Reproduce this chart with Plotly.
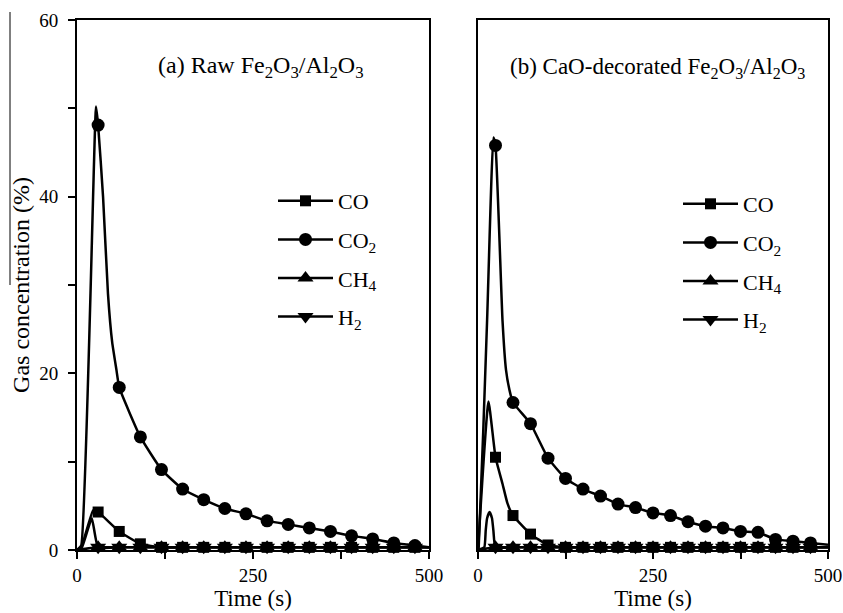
import plotly.graph_objects as go

# ---------------- data ----------------
# Panel (a): Raw Fe2O3/Al2O3  -- markers every 30 s
A_MARK_T = [30, 60, 90, 120, 150, 180, 210, 240, 270, 300, 330, 360, 390, 420, 450, 480]

A_CO_T = [0, 6, 23, 30, 60, 90, 120, 150, 180, 210, 240, 270, 300, 330, 360, 390, 420, 450, 480, 500]
A_CO = [0, 0.3, 4.5, 4.3, 2.1, 0.7, 0.3, 0.3, 0.3, 0.3, 0.3, 0.3, 0.3, 0.3, 0.3, 0.3, 0.3, 0.3, 0.3, 0.3]

A_CO2_T = [0, 6, 27, 30, 37, 44, 50, 56, 60, 90, 120, 150, 180, 210, 240, 270, 300, 330, 360, 390, 420, 450, 480, 500]
A_CO2 = [0, 0.5, 50.2, 48.1, 40, 29, 23.5, 20.4, 18.4, 12.8, 9.1, 6.9, 5.7, 4.7, 4.1, 3.3, 2.9, 2.5, 2.1, 1.6, 1.25, 0.8, 0.5, 0.3]

A_CH4_T = [0, 30, 60, 90, 120, 150, 180, 210, 240, 270, 300, 330, 360, 390, 420, 450, 480, 500]
A_CH4 = [0, 0.3, 0.3, 0.3, 0.3, 0.3, 0.3, 0.3, 0.3, 0.3, 0.3, 0.3, 0.3, 0.3, 0.3, 0.3, 0.3, 0.3]

A_H2_T = [0, 7, 21, 30, 60, 90, 120, 150, 180, 210, 240, 270, 300, 330, 360, 390, 420, 450, 480, 500]
A_H2 = [0, 0.3, 3.6, 0.3, 0.3, 0.3, 0.3, 0.3, 0.3, 0.3, 0.3, 0.3, 0.3, 0.3, 0.3, 0.3, 0.3, 0.3, 0.3, 0.3]

# Panel (b): CaO-decorated Fe2O3/Al2O3 -- markers every 25 s
B_MARK_T = [25, 50, 75, 100, 125, 150, 175, 200, 225, 250, 275, 300, 325, 350, 375, 400, 425, 450, 475]

B_CO_T = [0, 15, 25, 35, 42, 50, 75, 100, 125, 150, 175, 200, 225, 250, 275, 300, 325, 350, 375, 400, 425, 450, 475, 500]
B_CO = [0, 16.8, 10.5, 7.5, 5.3, 3.9, 1.8, 0.57, 0.3, 0.3, 0.3, 0.3, 0.3, 0.3, 0.3, 0.3, 0.3, 0.3, 0.3, 0.3, 0.3, 0.3, 0.3, 0.3]

B_CO2_T = [0, 1, 13, 22, 25, 35, 40, 45, 50, 75, 100, 125, 150, 175, 200, 225, 250, 275, 300, 325, 350, 375, 400, 425, 450, 475, 500]
B_CO2 = [0, 0.3, 26, 46.7, 45.8, 26, 20.4, 18.1, 16.7, 14.3, 10.4, 8.1, 6.9, 6.1, 5.2, 4.8, 4.2, 3.9, 3.2, 2.7, 2.5, 2.1, 2.0, 1.2, 1.0, 0.8, 0.6]

B_CH4_T = [0, 25, 50, 75, 100, 125, 150, 175, 200, 225, 250, 275, 300, 325, 350, 375, 400, 425, 450, 475, 500]
B_CH4 = [0, 0.3, 0.3, 0.3, 0.3, 0.3, 0.3, 0.3, 0.3, 0.3, 0.3, 0.3, 0.3, 0.3, 0.3, 0.3, 0.3, 0.3, 0.3, 0.3, 0.3]

B_H2_T = [0, 9, 11, 13, 16.5, 20, 22, 25, 50, 75, 100, 125, 150, 175, 200, 225, 250, 275, 300, 325, 350, 375, 400, 425, 450, 475, 500]
B_H2 = [0, 0.3, 2.2, 3.6, 4.3, 3.6, 2.2, 0.3, 0.3, 0.3, 0.3, 0.3, 0.3, 0.3, 0.3, 0.3, 0.3, 0.3, 0.3, 0.3, 0.3, 0.3, 0.3, 0.3, 0.3, 0.3, 0.3]

SERIES_NAMES = ["CO", "CO<sub>2</sub>", "CH<sub>4</sub>", "H<sub>2</sub>"]
SYMBOLS = ["square", "circle", "triangle-up", "triangle-down"]
MSIZES = [11, 13, 14, 14]

FONT = "Liberation Serif, Times New Roman, serif"

fig = go.Figure()


def add_series(t, v, mark_t, name, symbol, msize, xa, ya, legend):
    sel = [i for i, ti in enumerate(t) if ti in mark_t]
    fig.add_trace(go.Scatter(
        x=t, y=v, name=name, mode="lines+markers",
        line=dict(color="black", width=2.5, shape="spline", smoothing=0.4),
        marker=dict(symbol=symbol, size=msize, color="black"),
        selectedpoints=sel,
        selected=dict(marker=dict(opacity=1)),
        unselected=dict(marker=dict(opacity=0)),
        xaxis=xa, yaxis=ya, legend=legend, legendgroup=legend + "_" + name,
        cliponaxis=False,
    ))


a_sets = [(A_CO_T, A_CO), (A_CO2_T, A_CO2), (A_CH4_T, A_CH4), (A_H2_T, A_H2)]
b_sets = [(B_CO_T, B_CO), (B_CO2_T, B_CO2), (B_CH4_T, B_CH4), (B_H2_T, B_H2)]
for (t, v), nm, sy, ms in zip(a_sets, SERIES_NAMES, SYMBOLS, MSIZES):
    add_series(t, v, A_MARK_T, nm, sy, ms, "x", "y", "legend")
for (t, v), nm, sy, ms in zip(b_sets, SERIES_NAMES, SYMBOLS, MSIZES):
    add_series(t, v, B_MARK_T, nm, sy, ms, "x2", "y2", "legend2")

W, H = 843, 613
xa_dom = [77 / W, 429 / W]
xb_dom = [478 / W, 828 / W]
y_dom = [1 - 550 / H, 1 - 20 / H]

common_x = dict(
    range=[0, 500], tickvals=[0, 250, 500], ticks="outside", ticklen=7, tickwidth=2,
    tickcolor="black", showline=True, linewidth=2, linecolor="black", mirror=True,
    showgrid=False, zeroline=False, automargin=False,
    minor=dict(tickvals=[125, 375], ticks="outside", ticklen=7, tickwidth=2, tickcolor="black", showgrid=False),
    tickfont=dict(family=FONT, size=19, color="black"),
    title=dict(text="Time (s)", font=dict(family=FONT, size=23, color="black"), standoff=2),
)

legend_common = dict(xanchor="left", yanchor="top", bgcolor="rgba(0,0,0,0)",
                     font=dict(family=FONT, size=22, color="black"),
                     itemwidth=55, itemsizing="trace", tracegroupgap=7)

fig.update_layout(
    width=W, height=H, margin=dict(l=0, r=0, t=0, b=0, autoexpand=False),
    paper_bgcolor="white", plot_bgcolor="white",
    font=dict(family=FONT, color="black"),
    xaxis=dict(domain=xa_dom, anchor="y", **common_x),
    xaxis2=dict(domain=xb_dom, anchor="y2", **common_x),
    yaxis=dict(
        domain=y_dom, anchor="x", range=[0, 60], tickvals=[0, 20, 40, 60],
        ticks="outside", ticklen=7, tickwidth=2, tickcolor="black", ticklabelstandoff=6,
        minor=dict(tickvals=[10, 30, 50], ticks="outside", ticklen=7, tickwidth=2, tickcolor="black", showgrid=False),
        showline=True, linewidth=2, linecolor="black", mirror=True,
        showgrid=False, zeroline=False, automargin=False,
        tickfont=dict(family=FONT, size=19, color="black"),
        title=dict(text="Gas concentration (%)", font=dict(family=FONT, size=24, color="black"), standoff=3),
    ),
    yaxis2=dict(
        domain=y_dom, anchor="x2", range=[0, 60], showticklabels=False, ticks="",
        showline=True, linewidth=2, linecolor="black", mirror=True,
        showgrid=False, zeroline=False, automargin=False,
    ),
    legend=dict(x=273 / W, y=1 - 180 / H, **legend_common),
    legend2=dict(x=678 / W, y=1 - 183 / H, **legend_common),
    showlegend=True,
    annotations=[
        dict(text="(a) Raw Fe<sub>2</sub>O<sub>3</sub>/Al<sub>2</sub>O<sub>3</sub>",
             xref="x domain", yref="y domain", x=0.524, y=0.944, showarrow=False,
             font=dict(family=FONT, size=24, color="black")),
        dict(text="(b) CaO-decorated Fe<sub>2</sub>O<sub>3</sub>/Al<sub>2</sub>O<sub>3</sub>",
             xref="x2 domain", yref="y2 domain", x=0.513, y=0.94, showarrow=False,
             font=dict(family=FONT, size=23, color="black")),
    ],
    shapes=[dict(type="line", xref="paper", yref="paper", x0=10 / W, x1=10 / W,
                 y0=1 - 12 / H, y1=1 - 285 / H, line=dict(color="black", width=1))],
)

# remove the browser's default 8px page margin so the figure sits at the window's corner
fig.write_html("out.html", config={"displayModeBar": False},
               post_script="document.body.style.margin='0';")
